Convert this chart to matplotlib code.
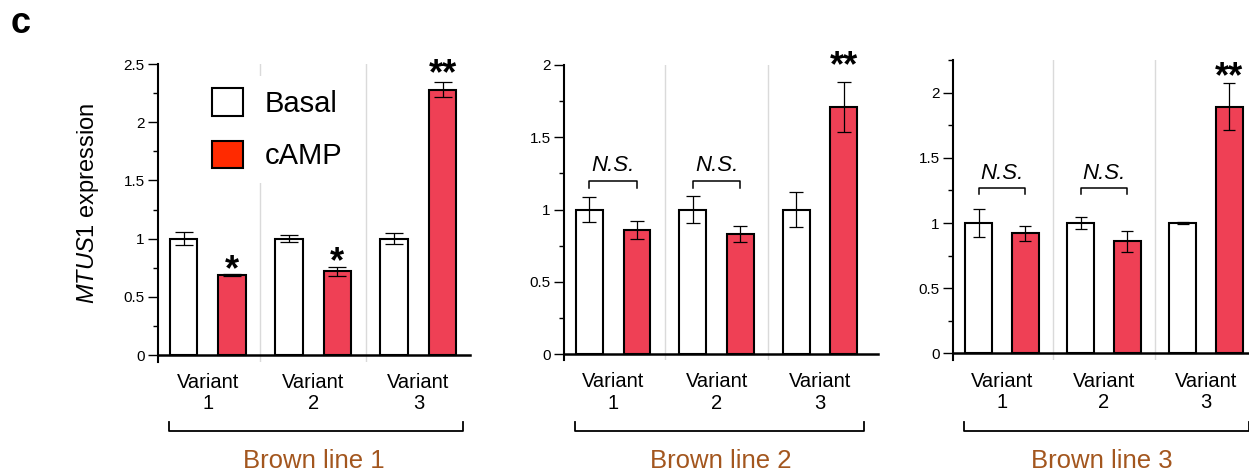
import matplotlib
matplotlib.use("Agg")
import matplotlib.pyplot as plt
from matplotlib.patches import Patch
from matplotlib.ticker import MultipleLocator, FixedLocator
import matplotlib.transforms as mtrans

plt.rcParams['font.family'] = ['Liberation Sans', 'DejaVu Sans']
plt.rcParams['mathtext.fontset'] = 'custom'
plt.rcParams['mathtext.rm'] = 'Liberation Sans'
plt.rcParams['mathtext.it'] = 'Liberation Sans:italic'

# ---------------- data ----------------
variants = ["Variant\n1", "Variant\n2", "Variant\n3"]
lines = ["Brown line 1", "Brown line 2", "Brown line 3"]
series = ["Basal", "cAMP"]

basal_1 = [1.00, 1.00, 1.00]
basal_1_err = [0.055, 0.03, 0.05]
camp_1 = [0.69, 0.72, 2.28]
camp_1_err = [0.01, 0.04, 0.065]

basal_2 = [1.00, 1.00, 1.00]
basal_2_err = [0.085, 0.092, 0.12]
camp_2 = [0.86, 0.83, 1.71]
camp_2_err = [0.06, 0.057, 0.17]

basal_3 = [1.00, 1.00, 1.00]
basal_3_err = [0.105, 0.045, 0.01]
camp_3 = [0.92, 0.86, 1.89]
camp_3_err = [0.06, 0.08, 0.18]

stars_1 = ["*", "*", "**"]
stars_2 = ["", "", "**"]
stars_3 = ["", "", "**"]
ns_groups = [[], [0, 1], [0, 1]]

ylims = [2.5, 2.0, 2.25]
yticks_1 = [0, 0.5, 1, 1.5, 2, 2.5]
ytick_labels_1 = ["0", "0.5", "1", "1.5", "2", "2.5"]
yticks_2 = [0, 0.5, 1, 1.5, 2]
ytick_labels_2 = ["0", "0.5", "1", "1.5", "2"]
yticks_3 = [0, 0.5, 1, 1.5, 2]
ytick_labels_3 = ["0", "0.5", "1", "1.5", "2"]

# ---------------- style ----------------
W, H = 1249, 473
fig = plt.figure(figsize=(W / 100, H / 100), dpi=100)

red = "#EF4055"
legend_red = "#FF2A00"
brown = "#A3561E"
sep_color = "#dadada"

panels = [
    dict(basal=basal_1, berr=basal_1_err, camp=camp_1, cerr=camp_1_err, stars=stars_1,
         yt=yticks_1, ytl=ytick_labels_1,
         px=(158, 470), ypx_top=64, ypx_bot=362, ymin=-0.06, xlim=(-0.473, 2.49),
         cap=6.8, star_off=[2.0, 3.0, 5.5], ns_y=None),
    dict(basal=basal_2, berr=basal_2_err, camp=camp_2, cerr=camp_2_err, stars=stars_2,
         yt=yticks_2, ytl=ytick_labels_2,
         px=(564, 878), ypx_top=65, ypx_bot=360, ymin=-0.04, xlim=(-0.476, 2.56),
         cap=4.8, star_off=[0, 0, 11.5], ns_y=1.20),
    dict(basal=basal_3, berr=basal_3_err, camp=camp_3, cerr=camp_3_err, stars=stars_3,
         yt=yticks_3, ytl=ytick_labels_3,
         px=(953, 1257), ypx_top=60, ypx_bot=360, ymin=-0.05, xlim=(-0.48, 2.5),
         cap=4.0, star_off=[0, 0, 4.0], ns_y=1.27),
]

off = 0.23
bw = 0.26
xs = [0, 1, 2]

for i, p in enumerate(panels):
    left = p["px"][0] / W
    width = (p["px"][1] - p["px"][0]) / W
    bottom = (H - p["ypx_bot"]) / H
    height = (p["ypx_bot"] - p["ypx_top"]) / H
    ax = fig.add_axes([left, bottom, width, height])
    ax.set_xlim(*p["xlim"])
    ax.set_ylim(p["ymin"], ylims[i])

    for s in ["top", "right"]:
        ax.spines[s].set_visible(False)
    ax.spines["bottom"].set_position(("data", 0))
    ax.spines["bottom"].set_linewidth(1.8)
    ax.spines["left"].set_linewidth(1.5)
    ax.spines["bottom"].set_zorder(4)

    # separators
    for sx in [0.5, 1.5]:
        ax.axvline(sx, color=sep_color, lw=1.0, zorder=0.5)

    bx = [x - off for x in xs]
    cx = [x + off for x in xs]
    ax.bar(bx, p["basal"], width=bw, color="white", edgecolor="black", lw=1.5, zorder=2)
    ax.bar(cx, p["camp"], width=bw, color=red, edgecolor="black", lw=1.5, zorder=2)
    ax.errorbar(bx, p["basal"], yerr=p["berr"], fmt="none", ecolor="black",
                elinewidth=0.9, capsize=p["cap"], capthick=0.9, zorder=3)
    ax.errorbar(cx, p["camp"], yerr=p["cerr"], fmt="none", ecolor="black",
                elinewidth=0.9, capsize=p["cap"], capthick=0.9, zorder=3)

    # stars
    for g, st in enumerate(p["stars"]):
        if st:
            ax.annotate(st, xy=(cx[g], p["camp"][g] + p["cerr"][g]),
                        xytext=(0, p["star_off"][g]), textcoords="offset points",
                        ha="center", va="center", fontsize=26, fontweight="bold",
                        zorder=5)

    # N.S. brackets
    for g in ns_groups[i]:
        yb = p["ns_y"]
        legd = 0.05
        ax.plot([bx[g], bx[g], cx[g], cx[g]], [yb - legd, yb, yb, yb - legd],
                color="black", lw=1.1, zorder=3)
        ax.text(xs[g], yb + 0.065, "N.S.", ha="center", va="baseline",
                fontsize=16, style="italic")

    # ticks
    ax.yaxis.set_major_locator(FixedLocator(p["yt"]))
    ax.set_yticklabels(p["ytl"])
    ax.yaxis.set_minor_locator(MultipleLocator(0.25))
    ax.tick_params(axis="y", which="major", length=7, width=1.0, labelsize=11, pad=2.5)
    ax.tick_params(axis="y", which="minor", length=3.5, width=1.0)
    ax.set_xticks(xs)
    ax.set_xticklabels(variants, fontsize=14.5, linespacing=1.15)
    ax.tick_params(axis="x", length=0, pad=13)

    # bottom bracket + line label
    tr = mtrans.blended_transform_factory(ax.transData, fig.transFigure)
    y0 = 1 - 431 / H
    y1 = 1 - 422 / H
    ax.plot([-0.37, -0.37, 2.42, 2.42], [y1, y0, y0, y1], transform=tr,
            color="black", lw=1.3, clip_on=False)
    cxf = left + width / 2
    if i == 2:
        cxf = (956 + 1248) / 2 / W
    fig.text(cxf, 1 - 461 / H, lines[i], ha="center", va="center",
             fontsize=18.5, color=brown)

    if i == 0:
        ax.set_ylabel(r"$\mathit{MTUS1}$ expression", fontsize=17)
        ax.yaxis.set_label_coords(-0.183, 0.534)
        handles = [Patch(facecolor="white", edgecolor="black", lw=1.5),
                   Patch(facecolor=legend_red, edgecolor="black", lw=1.5)]
        leg = ax.legend(handles, series, loc="upper left",
                        bbox_to_anchor=((200 - 158) / 312, (362 - 76) / 298),
                        fontsize=21, handlelength=1.07, handleheight=1.07,
                        handletextpad=0.72, labelspacing=0.78, borderpad=0.42,
                        borderaxespad=0, frameon=True, fancybox=False)
        leg.get_frame().set_facecolor("white")
        leg.get_frame().set_edgecolor("none")
        leg.get_frame().set_alpha(1)

fig.text(11 / W, 1 - 33 / H, "c", fontsize=26, fontweight="bold", va="baseline")

fig.savefig("out.png", dpi=100)
